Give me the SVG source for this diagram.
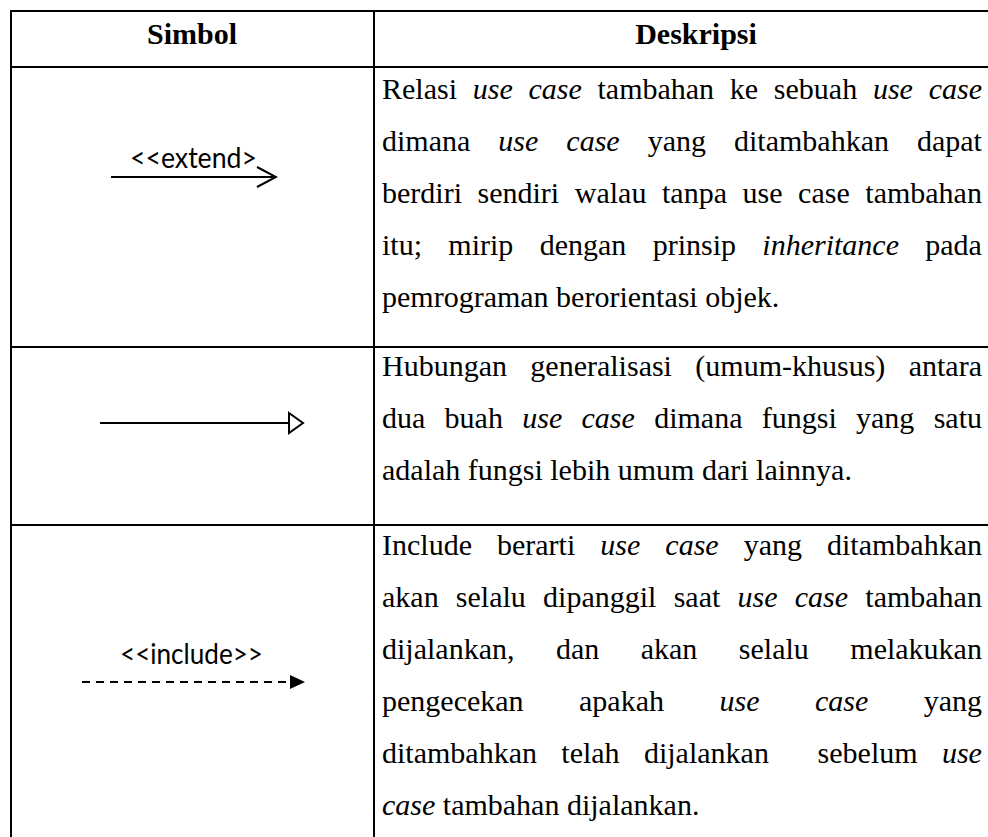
<svg xmlns="http://www.w3.org/2000/svg" width="988" height="837" viewBox="0 0 988 837">
<style>
.grid{stroke:#000;stroke-width:2;fill:none}
.t{font-family:"Liberation Serif","Times New Roman",serif;font-size:30px;fill:#000}
.h{font-family:"Liberation Serif","Times New Roman",serif;font-size:30px;font-weight:bold;fill:#000;text-anchor:middle}
.i{font-style:italic}
.s{font-family:Lato,"Open Sans","Liberation Sans",sans-serif;font-size:28px;fill:#000}
.ln{stroke:#000;stroke-width:2;fill:none}
</style>
<defs>
<marker id="open" markerWidth="22" markerHeight="24" refX="20" refY="11" orient="auto" markerUnits="userSpaceOnUse"><path d="M1,1 L20,11 L1,21" fill="none" stroke="#000" stroke-width="2"/></marker>
</defs>
<rect width="988" height="837" fill="#fff"/>
<g id="table">
<line class="grid" x1="10" y1="11" x2="988" y2="11"/>
<line class="grid" x1="11" y1="10" x2="11" y2="837"/>
<line class="grid" x1="374" y1="10" x2="374" y2="837"/>
<line class="grid" x1="10" y1="67" x2="988" y2="67"/>
<line class="grid" x1="10" y1="347" x2="988" y2="347"/>
<line class="grid" x1="10" y1="525" x2="988" y2="525"/>
</g>
<g id="header">
<text class="h" x="192" y="44">Simbol</text>
<text class="h" x="696" y="44">Deskripsi</text>
</g>
<g id="row-extend">
<text class="t" x="382" y="99" word-spacing="8.23">Relasi <tspan class="i">use case</tspan> tambahan ke sebuah <tspan class="i">use case</tspan></text>
<text class="t" x="382" y="151" word-spacing="20.52">dimana <tspan class="i">use case</tspan> yang ditambahkan dapat</text>
<text class="t" x="382" y="203" word-spacing="8.08">berdiri sendiri walau tanpa use case tambahan</text>
<text class="t" x="382" y="255" word-spacing="18.84">itu; mirip dengan prinsip <tspan class="i">inheritance</tspan> pada</text>
<text class="t" x="382" y="307">pemrograman berorientasi objek.</text>
</g>
<g id="row-generalization">
<text class="t" x="382" y="376" word-spacing="15.87">Hubungan generalisasi (umum-khusus) antara</text>
<text class="t" x="382" y="428" word-spacing="11.8">dua buah <tspan class="i">use case</tspan> dimana fungsi yang satu</text>
<text class="t" x="382" y="480">adalah fungsi lebih umum dari lainnya.</text>
</g>
<g id="row-include">
<text class="t" x="382" y="555" word-spacing="17.53">Include berarti <tspan class="i">use case</tspan> yang ditambahkan</text>
<text class="t" x="382" y="607" word-spacing="9.74">akan selalu dipanggil saat <tspan class="i">use case</tspan> tambahan</text>
<text class="t" x="382" y="659" word-spacing="33.98">dijalankan, dan akan selalu melakukan</text>
<text class="t" x="382" y="711" word-spacing="47.96">pengecekan apakah <tspan class="i">use case</tspan> yang</text>
<text class="t" x="382" y="763" word-spacing="16.85" xml:space="preserve">ditambahkan telah dijalankan  sebelum <tspan class="i">use</tspan></text>
<text class="t" x="382" y="815"><tspan class="i">case</tspan> tambahan dijalankan.</text>
</g>
<g id="symbols">
<g id="sym-extend">
<text class="s" x="130" y="168" textLength="127" lengthAdjust="spacingAndGlyphs">&lt;&lt;extend&gt;</text>
<line class="ln" x1="111" y1="177" x2="276" y2="177" marker-end="url(#open)"/>
</g>
<g id="sym-generalization">
<line class="ln" x1="100" y1="423" x2="289" y2="423"/>
<path d="M289,413 L303,423 L289,433 Z" fill="#fff" stroke="#000" stroke-width="2"/>
</g>
<g id="sym-include">
<text class="s" x="120" y="664" textLength="143" lengthAdjust="spacingAndGlyphs">&lt;&lt;include&gt;&gt;</text>
<line class="ln" x1="82" y1="682" x2="290" y2="682" stroke-dasharray="8,6"/>
<path d="M290,675 L305,682 L290,689 Z" fill="#000"/>
</g>
</g>
</svg>
